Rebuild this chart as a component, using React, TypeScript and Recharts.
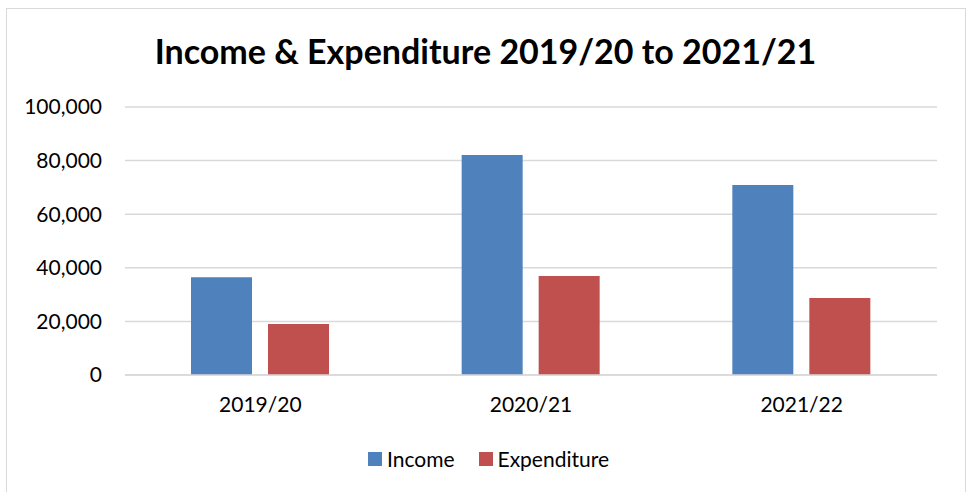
import React from "react";
import { BarChart, Bar, XAxis, YAxis, CartesianGrid } from "recharts";

const years = ["2019/20", "2020/21", "2021/22"];
const income = [36500, 82100, 70900];
const expenditure = [19000, 36900, 28700];
const yTicks = [0, 20000, 40000, 60000, 80000, 100000];

const data = years.map((year, i) => ({
  year,
  Income: income[i],
  Expenditure: expenditure[i],
}));

const series = [
  { key: "Income", color: "#4F81BD" },
  { key: "Expenditure", color: "#C0504D" },
];

const FONT = "Lato, 'Open Sans', sans-serif";

export default function App() {
  return (
    <div style={{ position: "relative", width: 971, height: 492, overflow: "hidden", background: "#fff", fontFamily: FONT }}>
      <style>{"body{margin:0}"}</style>
      <div
        style={{
          position: "absolute",
          left: 6,
          top: 8,
          width: 960,
          height: 520,
          border: "1.5px solid #d9d9d9",
          boxSizing: "border-box",
        }}
      />
      <div
        style={{
          position: "absolute",
          top: 30,
          left: 0,
          width: 971,
          textAlign: "center",
          fontSize: 34,
          fontWeight: 700,
          color: "#000",
        }}
      >
        Income &amp; Expenditure 2019/20 to 2021/21
      </div>
      <BarChart
        width={971}
        height={492}
        data={data}
        margin={{ top: 107, right: 34, bottom: 87, left: 25 }}
        barGap={16}
        barSize={61}
        style={{ position: "absolute", left: 0, top: 0 }}
      >
        <CartesianGrid vertical={false} stroke="#d9d9d9" strokeWidth={1.5} />
        <XAxis
          dataKey="year"
          height={30}
          axisLine={{ stroke: "#d9d9d9", strokeWidth: 1.5 }}
          tickLine={false}
          tickSize={0}
          tickMargin={22}
          tick={{ fill: "#000", fontSize: 21, fontFamily: FONT }}
        />
        <YAxis
          width={100}
          domain={[0, 100000]}
          ticks={yTicks}
          axisLine={false}
          tickLine={false}
          tickSize={0}
          tickMargin={23}
          tickFormatter={(v: number) => v.toLocaleString("en-US")}
          tick={{ fill: "#000", fontSize: 21, fontFamily: FONT }}
        />
        {series.map((s) => (
          <Bar key={s.key} dataKey={s.key} fill={s.color} isAnimationActive={false} />
        ))}
      </BarChart>
      {/* legend, laid out like the Excel one */}
      <div
        style={{
          position: "absolute",
          top: 446,
          left: 0,
          width: 971,
          display: "flex",
          justifyContent: "center",
          alignItems: "center",
          gap: 24,
          fontSize: 21,
          color: "#000",
          paddingLeft: 6,
          boxSizing: "border-box",
        }}
      >
        {series.map((s) => (
          <div key={s.key} style={{ display: "flex", alignItems: "center", gap: 5 }}>
            <span style={{ display: "inline-block", width: 14, height: 14, background: s.color }} />
            <span>{s.key}</span>
          </div>
        ))}
      </div>
    </div>
  );
}
